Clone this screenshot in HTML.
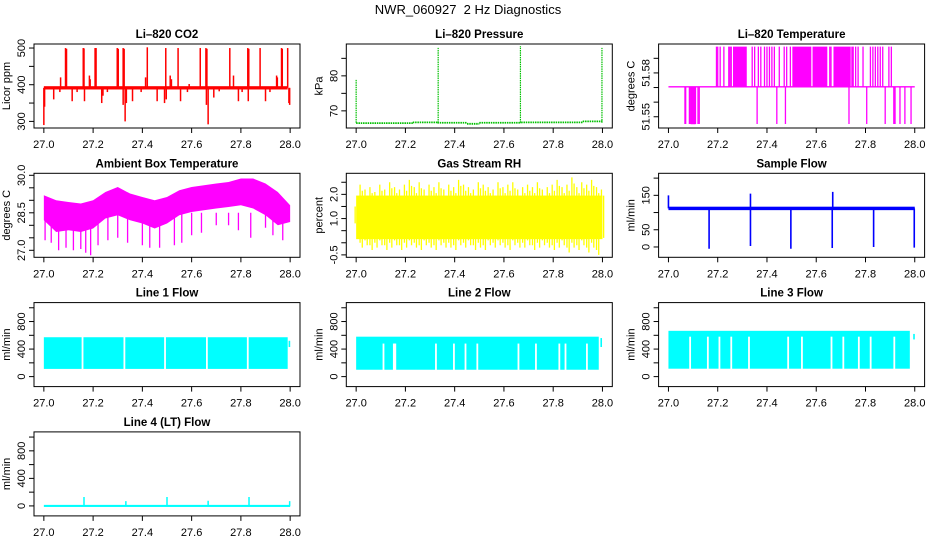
<!DOCTYPE html>
<html><head><meta charset="utf-8">
<style>
html,body{margin:0;padding:0;background:#fff;}
svg{display:block;font-family:"Liberation Sans",Arial,sans-serif;}
</style></head>
<body>
<svg id="chart" width="936" height="540" viewBox="0 0 936 540" xmlns="http://www.w3.org/2000/svg">
<rect x="0" y="0" width="936" height="540" fill="#fff"/>
<text x="468" y="14" text-anchor="middle" font-size="13">NWR_060927 &#160;2 Hz Diagnostics</text>
</svg>
<script>
// ---------- data ----------
const xTicks=[27.0,27.2,27.4,27.6,27.8,28.0];
const xTickLabels=["27.0","27.2","27.4","27.6","27.8","28.0"];

const co2Band=[387,396];
const co2SpikeT=[27.088,27.092,27.16,27.163,27.208,27.212,27.298,27.302,27.322,27.326,27.42,27.495,27.545,27.635,27.658,27.662,27.755,27.828,27.832,27.878,27.965,27.968,27.99,
27.068,27.185,27.188,27.413,27.513,27.518,27.59,27.77,27.945,27.948,
27.0,27.003,27.04,27.065,27.115,27.135,27.165,27.235,27.24,27.258,27.322,27.33,27.335,27.36,27.395,27.46,27.49,27.497,27.555,27.583,27.66,27.667,27.69,27.712,27.79,27.805,27.83,27.9,27.918,27.995,27.998];
const co2SpikeV=[500,498,500,499,500,500,500,498,500,498,502,500,500,500,500,498,500,500,498,500,500,498,500,
420,425,415,420,425,415,402,425,425,420,
290,340,360,380,355,380,355,350,370,380,345,300,350,355,380,355,350,360,355,380,345,292,365,382,355,380,355,355,380,350,345];

const presSegT=[27.0,27.23,27.33,27.45,27.5,27.67,27.92,28.0];
const presSegV=[66.5,66.7,66.6,66.3,66.6,66.7,67.0];
const presSpikeT=[27.0,27.333,27.667,27.998];
const presSpikeV=[79,88,88.5,88];

const tempLevels=[51.545,51.5705,51.598];
const tempHighBlocks=[[27.262,27.318],[27.503,27.58],[27.585,27.645],[27.67,27.74]];
const tempHighT=[27.195,27.2,27.21,27.225,27.245,27.25,27.255,27.34,27.35,27.365,27.375,27.39,27.4,27.41,27.42,27.43,27.45,27.47,27.48,27.495,27.655,27.66,27.745,27.75,27.76,27.77,27.79,27.82,27.83,27.84,27.85,27.86,27.87,27.895,27.905];
const tempLowBlocks=[[27.09,27.11]];
const tempLowT=[27.067,27.07,27.085,27.12,27.125,27.36,27.44,27.475,27.733,27.805,27.88,27.915,27.92,27.94,27.96,27.985];

const ambT=[27.0,27.05,27.1,27.15,27.2,27.25,27.3,27.35,27.4,27.45,27.5,27.55,27.6,27.65,27.7,27.75,27.8,27.85,27.9,27.95,28.0];
const ambHi=[29.2,29.0,28.93,28.87,29.0,29.33,29.53,29.27,29.13,29.0,29.13,29.4,29.53,29.6,29.67,29.73,29.87,29.87,29.67,29.33,28.8];
const ambLo=[28.2,27.73,27.8,27.73,27.87,28.27,28.4,28.2,28.07,27.87,28.07,28.4,28.53,28.6,28.67,28.73,28.8,28.67,28.4,28.0,28.13];
const ambSpikeT=[27.005,27.03,27.06,27.09,27.12,27.15,27.17,27.19,27.22,27.26,27.3,27.34,27.4,27.43,27.47,27.53,27.56,27.6,27.64,27.7,27.75,27.79,27.84,27.9,27.93,27.97];
const ambSpikeV=[27.4,27.3,27.0,27.1,27.0,27.05,26.9,26.8,27.2,27.4,27.5,27.3,27.2,27.1,27.1,27.2,27.3,27.6,27.7,28.0,28.0,27.8,27.5,27.9,27.6,27.4];

const rhHi=[1.5,2.4,2.2,2.3,2.1,2.4,2.2,2.5,2.3,2.2,2.4,2.6,2.3,2.5,2.2,2.4,2.3,2.5,2.2,2.4,2.3,2.6,2.4,2.3,2.2,2.5,2.4,2.3,2.2,2.5,2.3,2.4,2.5,2.2,2.3,2.4,2.3,2.5,2.2,2.3,2.4,2.6,2.3,2.4,2.7,2.3,2.5,2.4,2.6,2.3,2.2];
const rhLo=[0.6,-0.2,-0.1,-0.3,-0.2,-0.1,-0.3,-0.2,-0.1,-0.3,-0.2,-0.1,-0.2,-0.3,-0.1,-0.2,-0.3,-0.1,-0.2,-0.2,-0.3,-0.1,-0.2,-0.1,-0.3,-0.2,-0.3,-0.1,-0.2,-0.1,-0.2,-0.3,-0.1,-0.2,-0.2,-0.1,-0.3,-0.2,-0.1,-0.2,-0.3,-0.2,-0.1,-0.4,-0.2,-0.3,-0.1,-0.4,-0.2,-0.5,0.2];
const rhCore=[0.15,1.95];

const sfBand=[107,117];
const sfSpikeT=[27.0,27.165,27.333,27.333,27.497,27.665,27.667,27.833,27.998];
const sfSpikeV=[150,-5,3,155,-5,-3,160,0,-2];

const l1Band=[112,572];
const l1GapT=[27.157,27.327,27.492,27.662,27.828];
const l1End=[27.99,27.997,430,520];

const l2Band=[100,580];
const l2GapT=[27.111,27.153,27.156,27.159,27.324,27.397,27.444,27.492,27.659,27.73,27.825,27.85,27.937];
const l2GapTop=480;
const l2End=[27.985,27.995,430,560];

const l3Band=[115,665];
const l3GapT=[27.088,27.16,27.207,27.255,27.327,27.486,27.542,27.662,27.71,27.773,27.821,27.917];
const l3GapTop=580;
const l3End=[27.98,27.997,540,620];

const l4Band=[-15,15];
const l4SpikeT=[27.163,27.333,27.5,27.667,27.833,27.998];
const l4SpikeV=[130,70,130,75,130,70];

// ---------- layout ----------
const NS="http://www.w3.org/2000/svg";
const svg=document.getElementById('chart');
const colL=[34,346.3,658.6], rowT=[44,173.3,302.6,431.9], PW=266, PH=84;
const XD=[26.96,28.04];

function mk(tag,attrs,parent){const e=document.createElementNS(NS,tag);for(const k in attrs)e.setAttribute(k,attrs[k]);(parent||svg).appendChild(e);return e;}

function panel(name,title,ylab,col,row,yd,yTicks,yLabels){
  const L=colL[col],T=rowT[row];
  const g=mk('g',{});
  
  
  const sx=v=>L+(v-XD[0])/(XD[1]-XD[0])*PW;
  const sy=v=>T+PH-(v-yd[0])/(yd[1]-yd[0])*PH;
  const clipId='clip-'+name;
  const cp=mk('clipPath',{id:clipId},g);
  mk('rect',{x:L,y:T,width:PW,height:PH},cp);
  const plot=mk('g',{'clip-path':'url(#'+clipId+')'},g);
  
  
  const t=mk('text',{x:L+PW/2,y:T-6,'text-anchor':'middle','font-size':11.5,'font-weight':'bold'},g);
  t.textContent=title;
  
  
  const yl=mk('text',{x:0,y:0,'text-anchor':'middle','font-size':11,transform:'translate('+(L-24)+','+(T+PH/2)+') rotate(-90)'},g);
  yl.textContent=ylab;
  
  
  xTicks.forEach((v,i)=>{
    const tk=mk('line',{x1:sx(v),x2:sx(v),y1:T+PH,y2:T+PH+5,stroke:'#000','stroke-width':1},g);
    
    
    const lb=mk('text',{x:sx(v),y:T+PH+20,'text-anchor':'middle','font-size':11},g);
    lb.textContent=xTickLabels[i];
    
    
  });
  yTicks.forEach(v=>{
    const tk=mk('line',{x1:L-5,x2:L,y1:sy(v),y2:sy(v),stroke:'#000','stroke-width':1},g);
    
    
  });
  yLabels.forEach(p=>{
    const lb=mk('text',{x:0,y:0,'text-anchor':'middle','font-size':11,transform:'translate('+(L-9)+','+sy(p[0])+') rotate(-90)'},g);
    lb.textContent=p[1];
    
    
  });
  const bx=mk('rect',{x:L,y:T,width:PW,height:PH,fill:'none',stroke:'#000','stroke-width':1},g);
  
  
  return {plot,sx,sy};
}
function vline(p,x,y1,y2,color,w,nm,dash){
  const e=mk('line',{x1:x,x2:x,y1:y1,y2:y2,stroke:color,'stroke-width':w||1.5},p);
  if(dash)e.setAttribute('stroke-dasharray',dash);
  
  
  return e;
}
function band(p,x1,x2,y1,y2,color,nm){
  const e=mk('rect',{x:Math.min(x1,x2),y:Math.min(y1,y2),width:Math.abs(x2-x1),height:Math.max(0.8,Math.abs(y2-y1)),fill:color},p);
  
  
  return e;
}

// 1 CO2
(function(){
  const P=panel('co2','Li–820 CO2','Licor ppm',0,0,[282,511],[300,350,400,450,500],[[300,'300'],[400,'400'],[500,'500']]);
  const c='#ff0000';
  band(P.plot,P.sx(27.0),P.sx(27.99),P.sy(co2Band[1]),P.sy(co2Band[0]),c,'co2-baseline');
  co2SpikeT.forEach((t,i)=>vline(P.plot,P.sx(t),P.sy((co2Band[0]+co2Band[1])/2),P.sy(co2SpikeV[i]),c,1.5,'co2-spike'));
})();
// 2 Pressure
(function(){
  const P=panel('pressure','Li–820 Pressure','kPa',1,0,[65.1,89.1],[70,75,80,85],[[70,'70'],[80,'80']]);
  const c='#00c000';
  for(let i=0;i<presSegV.length;i++){
    const e=mk('line',{x1:P.sx(presSegT[i]),x2:P.sx(presSegT[i+1]),y1:P.sy(presSegV[i]),y2:P.sy(presSegV[i]),stroke:c,'stroke-width':1.8,'stroke-dasharray':'1.5,0.8'},P.plot);
    
    
  }
  presSpikeT.forEach((t,i)=>vline(P.plot,P.sx(t),P.sy(66.6),P.sy(presSpikeV[i]),c,1.2,'pressure-spike','1.5,0.8'));
})();
// 3 Temperature
(function(){
  const P=panel('li820-temp','Li–820 Temperature','degrees C',2,0,[51.5423,51.5998],[51.55,51.56,51.57,51.58,51.59],[[51.55,'51.55'],[51.58,'51.58']]);
  const c='#ff00ff';
  const yb=P.sy(tempLevels[1]),yh=P.sy(tempLevels[2]),yl=P.sy(tempLevels[0]);
  const base=mk('line',{x1:P.sx(27.0),x2:P.sx(28.0),y1:yb,y2:yb,stroke:c,'stroke-width':1.3},P.plot);
  
  
  tempHighBlocks.forEach(b=>band(P.plot,P.sx(b[0]),P.sx(b[1]),yh,yb,c,'temp-high-block'));
  tempLowBlocks.forEach(b=>{
    const e=mk('line',{x1:P.sx(b[0]),x2:P.sx(b[1]),y1:yl-0.5,y2:yl-0.5,stroke:c,'stroke-width':1.3},P.plot);
    
    
    for(let t=b[0];t<=b[1]+1e-9;t+=0.004)vline(P.plot,P.sx(t),yb,yl,c,1.2,'temp-low-line');});
  tempHighT.forEach(t=>vline(P.plot,P.sx(t),yb,yh,c,1.3,'temp-high-line'));
  tempLowT.forEach(t=>vline(P.plot,P.sx(t),yb,yl,c,1.3,'temp-low-line'));
})();
// 4 Ambient
(function(){
  const P=panel('ambient-temp','Ambient Box Temperature','degrees C',0,1,[26.72,30.08],[27,27.5,28,28.5,29,29.5,30],[[27,'27.0'],[28.5,'28.5'],[30,'30.0']]);
  const c='#ff00ff';
  let pts=ambT.map((t,i)=>P.sx(t)+','+P.sy(ambHi[i]));
  pts=pts.concat(ambT.map((t,i)=>P.sx(t)+','+P.sy(ambLo[i])).reverse());
  const pg=mk('polygon',{points:pts.join(' '),fill:c},P.plot);
  
  
  ambSpikeT.forEach((t,i)=>vline(P.plot,P.sx(t),P.sy(28.5),P.sy(ambSpikeV[i]),c,1.3,'ambient-temp-spike'));
})();
// 5 RH
(function(){
  const P=panel('rh','Gas Stream RH','percent',1,1,[-0.6,2.87],[-0.5,0,0.5,1,1.5,2,2.5],[[-0.5,'-0.5'],[1,'1.0'],[2,'2.0']]);
  const c='#ffff00';
  const n=rhHi.length;
  band(P.plot,P.sx(27.0),P.sx(28.0),P.sy(rhCore[1]),P.sy(rhCore[0]),c,'rh-core-band');
  for(let i=0;i<n;i++){
    const t=27+i/(n-1);
    const x=P.sx(t);
    vline(P.plot,x-1,P.sy(rhLo[i]+0.2),P.sy(rhHi[i]),c,1.3,'rh-bin-line');
    vline(P.plot,x+1.2,P.sy(rhLo[i]),P.sy(rhHi[i]-0.25),c,1.3,'rh-bin-line');
  }
})();
// 6 Sample flow
(function(){
  const P=panel('sample-flow','Sample Flow','ml/min',2,1,[-30,214],[0,50,100,150,200],[[0,'0'],[50,'50'],[150,'150']]);
  const c='#0000ff';
  band(P.plot,P.sx(27.0),P.sx(28.0),P.sy(sfBand[1]),P.sy(sfBand[0]),c,'sample-flow-baseline');
  sfSpikeT.forEach((t,i)=>vline(P.plot,P.sx(t),P.sy(112),P.sy(sfSpikeV[i]),c,1.6,'sample-flow-spike'));
})();
// lines
function flowPanel(name,title,col,row,bnd,gaps,gapTop,end){
  const P=panel(name,title,'ml/min',col,row,[-145,1075],[0,200,400,600,800,1000],[[0,'0'],[400,'400'],[800,'800']]);
  const c='#00ffff';
  band(P.plot,P.sx(27.0),P.sx(end[0]),P.sy(bnd[1]),P.sy(bnd[0]),c,name+'-band');
  gaps.forEach(t=>{
    const e=mk('rect',{x:P.sx(t)-0.9,y:P.sy(gapTop),width:1.8,height:P.sy(bnd[0])-P.sy(gapTop)+0.5,fill:'#fff'},P.plot);
    
    
  });
  band(P.plot,P.sx(end[1])-0.8,P.sx(end[1])+0.8,P.sy(end[3]),P.sy(end[2]),c,name+'-end-stub');
}
flowPanel('line1-flow','Line 1 Flow',0,2,l1Band,l1GapT,l1Band[1]+10,l1End);
flowPanel('line2-flow','Line 2 Flow',1,2,l2Band,l2GapT,l2GapTop,l2End);
flowPanel('line3-flow','Line 3 Flow',2,2,l3Band,l3GapT,l3GapTop,l3End);
(function(){
  const P=panel('line4-flow','Line 4 (LT) Flow','ml/min',0,3,[-145,1075],[0,200,400,600,800,1000],[[0,'0'],[400,'400'],[800,'800']]);
  const c='#00ffff';
  band(P.plot,P.sx(27.0),P.sx(28.0),P.sy(l4Band[1]),P.sy(l4Band[0]),c,'line4-flow-baseline');
  l4SpikeT.forEach((t,i)=>vline(P.plot,P.sx(t),P.sy(0),P.sy(l4SpikeV[i]),c,1.5,'line4-flow-spike'));
})();
</script>
</body></html>
